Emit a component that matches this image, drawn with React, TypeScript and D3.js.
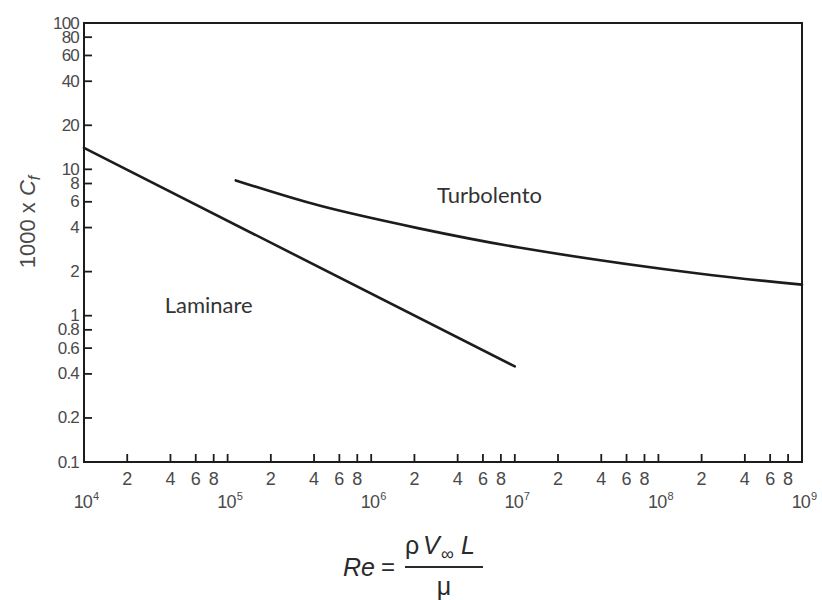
import React from "react";
import * as d3 from "d3";

// Skin-friction coefficient vs Reynolds number (flat plate)
const laminarRe = [1e4, 1e7];
const laminarCf = [14, 0.45];

const turbulentRe = [1.14e5, 4.35e5, 2.15e6, 1.07e7, 1.9e8, 1e9];
const turbulentCf = [8.4, 5.65, 3.95, 2.92, 1.94, 1.63];

const yTickValues = [0.1, 0.2, 0.4, 0.6, 0.8, 1, 2, 4, 6, 8, 10, 20, 40, 60, 80, 100];
const yTickLabels = ["0.1", "0.2", "0.4", "0.6", "0.8", "1", "2", "4", "6", "8", "10", "20", "40", "60", "80", "100"];

const decadeExponents = [4, 5, 6, 7, 8, 9];
const minorMultipliers = [2, 4, 6, 8];

const regionLabels = [
  { text: "Laminare", re: 3.65e4, cf: 1.04 },
  { text: "Turbolento", re: 2.87e6, cf: 5.9 },
];

const W = 822;
const H = 600;
const M = { left: 84, right: 802, top: 23, bottom: 462 };

const INK = "#1c1c1c";
const LABEL = "#4a4a4a";
const AXIS_FONT = "Liberation Sans, Arimo, Arial, Helvetica, sans-serif";

export default function App() {
  const x = d3.scaleLog().domain([1e4, 1e9]).range([M.left, M.right]);
  const y = d3.scaleLog().domain([0.1, 100]).range([M.bottom, M.top]);

  const line = d3
    .line<[number, number]>()
    .x((d) => x(d[0]))
    .y((d) => y(d[1]))
    .curve(d3.curveCatmullRom.alpha(0.5));

  const laminar = laminarRe.map((r, i) => [r, laminarCf[i]] as [number, number]);
  const turbulent = turbulentRe.map((r, i) => [r, turbulentCf[i]] as [number, number]);

  // minor x ticks: 2,4,6,8 within every decade
  const minorX: { v: number; m: number }[] = [];
  decadeExponents.slice(0, -1).forEach((e) => {
    minorMultipliers.forEach((m) => minorX.push({ v: m * Math.pow(10, e), m }));
  });
  const innerDecades = decadeExponents.slice(1, -1).map((e) => Math.pow(10, e));

  const tickLen = 8;

  return (
    <svg
      width={W}
      height={H}
      viewBox={`0 0 ${W} ${H}`}
      style={{ position: "absolute", left: 0, top: 0, background: "#fff" }}
    >
      {/* frame */}
      <rect
        x={M.left}
        y={M.top}
        width={M.right - M.left}
        height={M.bottom - M.top}
        fill="none"
        stroke={INK}
        strokeWidth={2}
      />

      {/* y ticks and labels */}
      {yTickValues.map((v, i) => (
        <g key={`y${v}`}>
          {v > 0.1 && v < 100 && (
            <line x1={M.left} x2={M.left + tickLen} y1={y(v)} y2={y(v)} stroke={INK} strokeWidth={1.8} />
          )}
          <text
            x={M.left - 5}
            y={y(v)}
            textAnchor="end"
            dominantBaseline="central"
            fontFamily={AXIS_FONT}
            fontSize={17}
            letterSpacing={-0.8}
            fill={LABEL}
          >
            {yTickLabels[i]}
          </text>
        </g>
      ))}

      {/* x minor ticks with labels */}
      {minorX.map((t) => (
        <g key={`x${t.v}`}>
          <line x1={x(t.v)} x2={x(t.v)} y1={M.bottom} y2={M.bottom - tickLen} stroke={INK} strokeWidth={1.8} />
          <text
            x={x(t.v)}
            y={M.bottom + 17}
            textAnchor="middle"
            dominantBaseline="central"
            fontFamily={AXIS_FONT}
            fontSize={18}
            fill={LABEL}
          >
            {t.m}
          </text>
        </g>
      ))}
      {innerDecades.map((v) => (
        <line key={`d${v}`} x1={x(v)} x2={x(v)} y1={M.bottom} y2={M.bottom - tickLen} stroke={INK} strokeWidth={1.8} />
      ))}

      {/* decade labels */}
      {decadeExponents.map((e) => (
        <text
          key={`e${e}`}
          x={x(Math.pow(10, e)) + 2}
          y={M.bottom + 46}
          textAnchor="middle"
          fontFamily={AXIS_FONT}
          fontSize={18}
          letterSpacing={-0.8}
          fill={LABEL}
        >
          10
          <tspan fontSize={11} dy={-8} dx={1}>
            {e}
          </tspan>
        </text>
      ))}

      {/* curves */}
      <path d={line(laminar) ?? ""} fill="none" stroke={INK} strokeWidth={2.6} strokeLinecap="round" />
      <path d={line(turbulent) ?? ""} fill="none" stroke={INK} strokeWidth={2.6} strokeLinecap="round" />

      {/* region labels */}
      {regionLabels.map((l) => (
        <text
          key={l.text}
          x={x(l.re)}
          y={y(l.cf)}
          fontFamily="Lato, 'Open Sans', sans-serif"
          fontSize={22}
          fill="#333"
        >
          {l.text}
        </text>
      ))}

      {/* y-axis title */}
      <text
        transform={`translate(35, 222) rotate(-90)`}
        textAnchor="middle"
        fontFamily={AXIS_FONT}
        fontSize={22}
        fill={LABEL}
      >
        1000 x <tspan fontStyle="italic">C</tspan>
        <tspan fontStyle="italic" fontSize={16} dy={5}>
          f
        </tspan>
      </text>

      {/* x-axis title: Re = ρ V∞ L / μ */}
      <g fontFamily={AXIS_FONT} fill="#2a2a2a">
        <text x={343} y={576} fontSize={25} fontStyle="italic">
          Re
        </text>
        <text x={381} y={575} fontSize={24}>
          =
        </text>
        <text x={405} y={554} fontSize={25}>
          ρ
        </text>
        <text x={423} y={554} fontSize={25} fontStyle="italic">
          V
        </text>
        <text x={441} y={560} fontSize={18}>
          ∞
        </text>
        <text x={461} y={554} fontSize={25} fontStyle="italic">
          L
        </text>
        <line x1={405} x2={483} y1={567} y2={567} stroke="#2a2a2a" strokeWidth={2} />
        <text x={444} y={595} fontSize={25} textAnchor="middle">
          μ
        </text>
      </g>
    </svg>
  );
}
